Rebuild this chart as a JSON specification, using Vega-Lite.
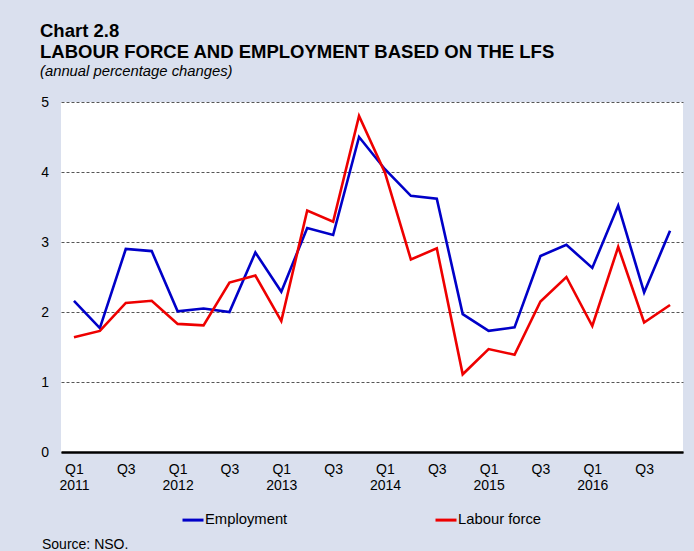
{
  "$schema": "https://vega.github.io/schema/vega-lite/v6.json",
  "autosize": {"type": "none"},
  "padding": {"left": 61, "top": 102, "right": 11, "bottom": 99},
  "width": 622,
  "height": 350,
  "background": "#dae0ee",
  "title": {
    "text": ["Chart 2.8", "LABOUR FORCE AND EMPLOYMENT BASED ON THE LFS"],
    "subtitle": "(annual percentage changes)",
    "anchor": "start",
    "frame": "group",
    "dx": -21,
    "offset": 16,
    "font": "Liberation Sans",
    "fontSize": 18.5,
    "fontWeight": "bold",
    "lineHeight": 21,
    "color": "#000000",
    "subtitleFont": "Liberation Sans",
    "subtitleFontSize": 14.8,
    "subtitleFontStyle": "italic",
    "subtitleColor": "#000000",
    "subtitlePadding": 3
  },
  "config": {
    "view": {"fill": "white", "stroke": null},
    "font": "Liberation Sans"
  },
  "data": {
    "values": [
      {"q": "Q1 2011", "series": "Employment", "value": 2.16},
      {"q": "Q2 2011", "series": "Employment", "value": 1.77},
      {"q": "Q3 2011", "series": "Employment", "value": 2.90},
      {"q": "Q4 2011", "series": "Employment", "value": 2.87},
      {"q": "Q1 2012", "series": "Employment", "value": 2.01},
      {"q": "Q2 2012", "series": "Employment", "value": 2.05},
      {"q": "Q3 2012", "series": "Employment", "value": 2.00},
      {"q": "Q4 2012", "series": "Employment", "value": 2.85},
      {"q": "Q1 2013", "series": "Employment", "value": 2.29},
      {"q": "Q2 2013", "series": "Employment", "value": 3.20},
      {"q": "Q3 2013", "series": "Employment", "value": 3.10},
      {"q": "Q4 2013", "series": "Employment", "value": 4.50},
      {"q": "Q1 2014", "series": "Employment", "value": 4.04},
      {"q": "Q2 2014", "series": "Employment", "value": 3.66},
      {"q": "Q3 2014", "series": "Employment", "value": 3.62},
      {"q": "Q4 2014", "series": "Employment", "value": 1.97},
      {"q": "Q1 2015", "series": "Employment", "value": 1.73},
      {"q": "Q2 2015", "series": "Employment", "value": 1.78},
      {"q": "Q3 2015", "series": "Employment", "value": 2.80},
      {"q": "Q4 2015", "series": "Employment", "value": 2.96},
      {"q": "Q1 2016", "series": "Employment", "value": 2.63},
      {"q": "Q2 2016", "series": "Employment", "value": 3.52},
      {"q": "Q3 2016", "series": "Employment", "value": 2.28},
      {"q": "Q4 2016", "series": "Employment", "value": 3.16},
      {"q": "Q1 2011", "series": "Labour force", "value": 1.64},
      {"q": "Q2 2011", "series": "Labour force", "value": 1.73},
      {"q": "Q3 2011", "series": "Labour force", "value": 2.13},
      {"q": "Q4 2011", "series": "Labour force", "value": 2.16},
      {"q": "Q1 2012", "series": "Labour force", "value": 1.83},
      {"q": "Q2 2012", "series": "Labour force", "value": 1.81},
      {"q": "Q3 2012", "series": "Labour force", "value": 2.42},
      {"q": "Q4 2012", "series": "Labour force", "value": 2.52},
      {"q": "Q1 2013", "series": "Labour force", "value": 1.87},
      {"q": "Q2 2013", "series": "Labour force", "value": 3.45},
      {"q": "Q3 2013", "series": "Labour force", "value": 3.29},
      {"q": "Q4 2013", "series": "Labour force", "value": 4.80},
      {"q": "Q1 2014", "series": "Labour force", "value": 3.99},
      {"q": "Q2 2014", "series": "Labour force", "value": 2.75},
      {"q": "Q3 2014", "series": "Labour force", "value": 2.91},
      {"q": "Q4 2014", "series": "Labour force", "value": 1.11},
      {"q": "Q1 2015", "series": "Labour force", "value": 1.47},
      {"q": "Q2 2015", "series": "Labour force", "value": 1.39},
      {"q": "Q3 2015", "series": "Labour force", "value": 2.15},
      {"q": "Q4 2015", "series": "Labour force", "value": 2.50},
      {"q": "Q1 2016", "series": "Labour force", "value": 1.80},
      {"q": "Q2 2016", "series": "Labour force", "value": 2.93},
      {"q": "Q3 2016", "series": "Labour force", "value": 1.85},
      {"q": "Q4 2016", "series": "Labour force", "value": 2.10}
    ]
  },
  "mark": {"type": "line", "strokeWidth": 2.6, "strokeJoin": "miter"},
  "encoding": {
    "x": {
      "field": "q",
      "type": "ordinal",
      "sort": null,
      "scale": {"type": "point", "padding": 0.5},
      "axis": {
        "title": "Source: NSO.",
        "titleAnchor": "start",
        "titleAlign": "left",
        "titleBaseline": "alphabetic",
        "titleX": -19.5,
        "titleY": 96,
        "titleFontSize": 14,
        "titleFontWeight": "normal",
        "titleColor": "#000000",
        "labelAngle": 0,
        "labelExpr": "slice(datum.value,0,2)=='Q1' ? split(datum.value,' ') : (slice(datum.value,0,2)=='Q3' ? 'Q3' : '')",
        "labelFontSize": 14,
        "labelLineHeight": 16.5,
        "labelColor": "#000000",
        "labelPadding": 10,
        "labelBaseline": "top",
        "ticks": false,
        "domainColor": "#000000",
        "domainWidth": 2.5,
        "grid": false
      }
    },
    "y": {
      "field": "value",
      "type": "quantitative",
      "scale": {"domain": [0, 5], "nice": false},
      "axis": {
        "title": null,
        "values": [0, 1, 2, 3, 4, 5],
        "labelFontSize": 14,
        "labelColor": "#000000",
        "labelPadding": 12.5,
        "ticks": false,
        "domain": false,
        "grid": true,
        "gridColor": "#555555",
        "gridWidth": 1,
        "gridDash": [3, 2]
      }
    },
    "color": {
      "field": "series",
      "type": "nominal",
      "scale": {"domain": ["Employment", "Labour force"], "range": ["#0000c8", "#ee0000"]},
      "legend": {
        "title": null,
        "orient": "none",
        "direction": "horizontal",
        "legendX": 120,
        "legendY": 406,
        "symbolType": "stroke",
        "symbolSize": 441,
        "symbolStrokeWidth": 3,
        "labelOffset": 0,
        "labelFontSize": 14.8,
        "labelColor": "#000000",
        "columnPadding": 141
      }
    }
  }
}
